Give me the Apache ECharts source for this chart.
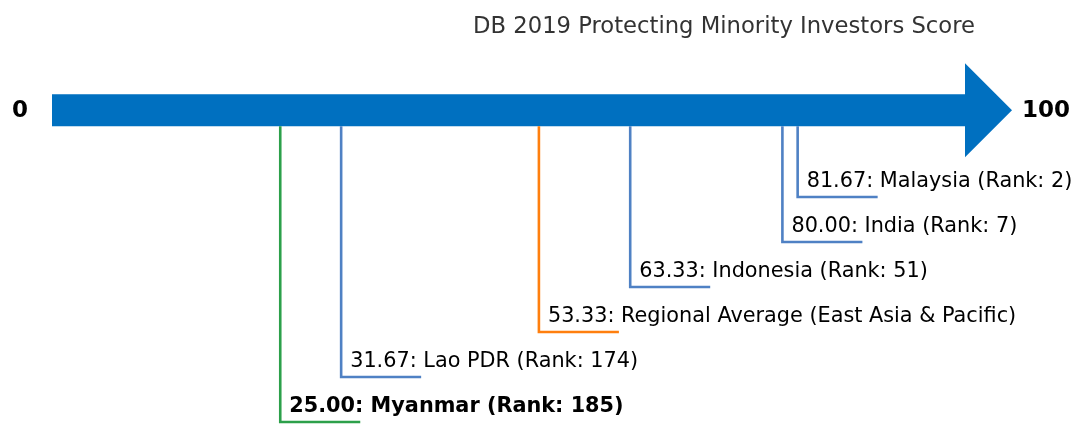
<!DOCTYPE html>
<html>
<head>
<meta charset="utf-8">
<script src="https://cdn.jsdelivr.net/npm/echarts@6/dist/echarts.min.js"></script>
<style>
  html, body { margin: 0; padding: 0; background: #fff; }
  #chart { width: 1071px; height: 424px; }
</style>
</head>
<body>
<div id="chart"></div>
<script>
// scores on the 0-100 scale, step level (0 = lowest label)
const names = ['Myanmar (Rank: 185)', 'Lao PDR (Rank: 174)', 'Regional Average (East Asia & Pacific)',
  'Indonesia (Rank: 51)', 'India (Rank: 7)', 'Malaysia (Rank: 2)']
const scores = [25.00, 31.67, 53.33, 63.33, 80.00, 81.67]
const levels = [0, 1, 2, 3, 4, 5]
const lineColors = ['#2ca04a', '#4f81c4', '#ff7f0e', '#4f81c4', '#4f81c4', '#4f81c4']
const boldFlags = [true, false, false, false, false, false]
const scaleMin = 0
const scaleMax = 100
const arrowLevel = 6.93

const chart = echarts.init(document.getElementById('chart'))

chart.setOption({
  animation: false,
  graphic: [{
    type: 'text',
    x: 724,
    y: 27,
    style: {
      text: 'DB 2019 Protecting Minority Investors Score',
      font: '22.7px "DejaVu Sans"',
      fill: '#333',
      align: 'center',
      verticalAlign: 'middle'
    }
  }],
  grid: { left: 52, right: 106, top: 0, bottom: 0 },
  xAxis: { type: 'value', min: scaleMin, max: scaleMax, show: false },
  yAxis: { type: 'value', min: -0.0444, max: 9.378, show: false },
  series: [
    {
      // the big arrow
      type: 'custom',
      data: [[scaleMin, scaleMax, arrowLevel]],
      renderItem(params, api) {
        const a = api.coord([api.value(0), api.value(2)])
        const b = api.coord([api.value(1), api.value(2)])
        const y = a[1]
        const half = 16, headHalf = 47, headLen = 47
        return {
          type: 'group',
          children: [
            {
              type: 'polygon',
              shape: {
                points: [
                  [a[0], y - half], [b[0], y - half], [b[0], y - headHalf],
                  [b[0] + headLen, y], [b[0], y + headHalf], [b[0], y + half], [a[0], y + half]
                ]
              },
              style: { fill: '#0070c0' }
            },
            {
              type: 'text',
              x: a[0] - 24, y: y + 1,
              style: { text: String(scaleMin), font: 'bold 23px "DejaVu Sans"', fill: '#000', align: 'right', verticalAlign: 'middle' }
            },
            {
              type: 'text',
              x: b[0] + headLen + 10, y: y + 1,
              style: { text: String(scaleMax), font: 'bold 23px "DejaVu Sans"', fill: '#000', align: 'left', verticalAlign: 'middle' }
            }
          ]
        }
      }
    },
    {
      // leader lines and labels
      type: 'custom',
      data: scores.map((s, i) => [s, levels[i], i]),
      renderItem(params, api) {
        const i = api.value(2)
        const p = api.coord([api.value(0), api.value(1)])
        const top = api.coord([api.value(0), arrowLevel])[1] + 16
        return {
          type: 'group',
          children: [
            {
              type: 'polyline',
              shape: { points: [[p[0], top], [p[0], p[1]], [p[0] + 80, p[1]]] },
              style: { stroke: lineColors[i], lineWidth: 2.6, fill: null }
            },
            {
              type: 'text',
              x: p[0] + 9, y: p[1] - 15,
              style: {
                text: scores[i].toFixed(2) + ': ' + names[i],
                font: (boldFlags[i] ? 'bold ' : '') + '20.8px "DejaVu Sans"',
                fill: '#000',
                align: 'left',
                verticalAlign: 'middle'
              }
            }
          ]
        }
      }
    }
  ]
})
</script>
</body>
</html>
